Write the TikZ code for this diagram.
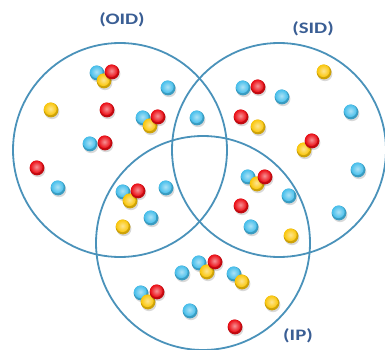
\documentclass[tikz,border=0pt]{standalone}
\usepackage{fontspec}
\setmainfont{Carlito}
\definecolor{ringblue}{RGB}{74,146,186}
\definecolor{labelblue}{RGB}{58,94,148}
\definecolor{ballblue}{RGB}{70,190,235}
\definecolor{ballred}{RGB}{235,12,20}
\definecolor{ballyellow}{RGB}{250,198,10}
\begin{document}
\begin{tikzpicture}
			[
				x=1pt, y=-1pt,
				ring/.style={circle, draw=ringblue, line width=1.8pt, minimum size=214pt, inner sep=0pt},
				setname/.style={text=labelblue, font=\bfseries\fontsize{16}{16}\selectfont, inner sep=0pt}
			]
			\useasboundingbox (0,0) rectangle (385,350);
			% Sets
			\node[ring] (oid) at (120,150) {};
			\node[ring] (sid) at (279,150) {};
			\node[ring] (ip) at (203,243) {};
			% Set names
			\node[setname] (oidname) at (122,20) {\scalebox{1.3}[1]{(OID)}};
			\node[setname] (sidname) at (313,29) {\scalebox{1.3}[1]{(SID)}};
			\node[setname] (ipname) at (298,336) {\scalebox{1.3}[1]{(IP)}};
			% Balls
			\foreach \x/\y/\c in {
					97/73/ballblue, 104/81/ballyellow, 112/72/ballred,
					168/88/ballblue, 51/110/ballyellow, 107/110/ballred,
					143/118/ballblue, 150/126/ballyellow, 158/117/ballred,
					90/144/ballblue, 105/143/ballred, 37/168/ballred,
					58/188/ballblue, 197/118/ballblue,
					324/72/ballyellow, 243/88/ballblue, 258/87/ballred,
					282/97/ballblue, 241/117/ballred, 258/127/ballyellow,
					351/112/ballblue, 304/150/ballyellow, 312/141/ballred,
					358/170/ballblue,
					123/192/ballblue, 130/201/ballyellow, 138/191/ballred,
					166/188/ballblue, 151/218/ballblue, 123/227/ballyellow,
					248/177/ballblue, 257/184/ballyellow, 265/177/ballred,
					289/196/ballblue, 241/206/ballred, 339/213/ballblue,
					251/227/ballblue, 291/236/ballyellow,
					182/273/ballblue, 199/263/ballblue, 207/272/ballyellow,
					215/262/ballred, 234/274/ballblue, 242/282/ballyellow,
					141/293/ballblue, 148/302/ballyellow, 157/292/ballred,
					190/311/ballblue, 272/303/ballyellow, 235/327/ballred} {
					\fill[black, opacity=.15] (\x+1,\y+1.8) circle (7.4);
					\fill[\c!82!black] (\x,\y) circle (7.4);
					\shade[inner color=\c!45!white, outer color=\c] (\x-.6,\y-1.2) circle (6.3);
				}
		\end{tikzpicture}
\end{document}
